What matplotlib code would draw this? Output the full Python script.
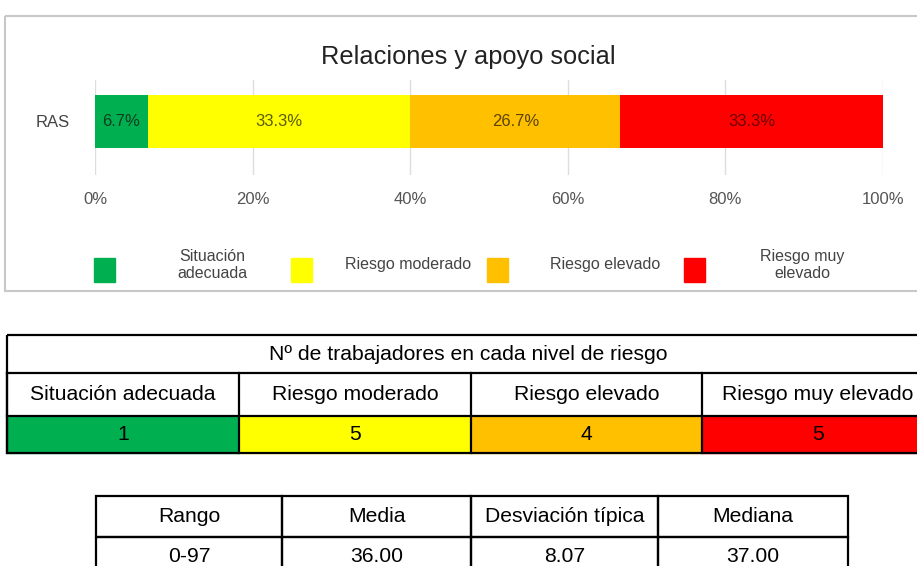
import matplotlib.pyplot as plt
from matplotlib.patches import Rectangle

plt.rcParams['font.family'] = ['Liberation Sans', 'DejaVu Sans']

# Data
niveles = ["Situación adecuada", "Riesgo moderado", "Riesgo elevado", "Riesgo muy elevado"]
leyenda = ["Situación\nadecuada", "Riesgo moderado", "Riesgo elevado", "Riesgo muy\nelevado"]
trabajadores = [1, 5, 4, 5]
colores = ["#00B050", "#FFFF00", "#FFC000", "#FF0000"]
colores_texto = ["#0b3d1f", "#5c5c00", "#5c4300", "#6b0000"]
escala = "RAS"
ticks = [0, 20, 40, 60, 80, 100]

stats_cols = ["Rango", "Media", "Desviación típica", "Mediana"]
stats_vals = ["0-97", "36.00", "8.07", "37.00"]

total = sum(trabajadores)
porcentajes = [n / total * 100 for n in trabajadores]

fig = plt.figure(figsize=(9.17, 5.66), dpi=100)
W, H = 917, 566

# background axes in pixel coordinates for the panel, legend and tables
bg = fig.add_axes([0, 0, 1, 1])
bg.set_xlim(0, W)
bg.set_ylim(H, 0)
bg.axis('off')

bg.add_patch(Rectangle((5, 16), 930, 275, fill=False, ec="#c8c8c8", lw=1.5))
bg.text(468, 57, "Relaciones y apoyo social", ha='center', va='center',
        fontsize=18.3, color="#222222")

# stacked bar
ax = fig.add_axes([95 / W, 1 - 175 / H, 788 / W, 95 / H])
left = 0
for p, c, tc in zip(porcentajes, colores, colores_texto):
    ax.barh(0, p, left=left, height=1, color=c, zorder=2)
    ax.text(left + p / 2, 0, f"{p:.1f}%", ha='center', va='center',
            fontsize=12, color=tc, zorder=3)
    left += p
ax.set_xlim(0, 100)
ax.set_ylim(-1.01, 0.78)
ax.set_xticks(ticks)
ax.set_xticklabels([f"{t}%" for t in ticks], fontsize=12, color="#555555")
ax.set_yticks([0])
ax.set_yticklabels([escala], fontsize=12, color="#444444")
ax.tick_params(length=0, axis='x', pad=12)
ax.tick_params(length=0, axis='y', pad=18)
ax.grid(axis='x', color="#dddddd", lw=1, zorder=0)
for s in ax.spines.values():
    s.set_visible(False)

# legend
sq_x = [94, 291, 487, 684]
lab_x = [212, 408, 605, 802]
for c, lab, sx, lx in zip(colores, leyenda, sq_x, lab_x):
    bg.add_patch(Rectangle((sx, 258), 21, 24, color=c))
    bg.text(lx, 265, lab, ha='center', va='center', fontsize=11.5,
            color="#444444", linespacing=1.1)

# table of workers per level
col_x = [7, 239, 471, 702, 934]
y1 = [335, 373, 416, 453]
lw = 1.6
bg.add_patch(Rectangle((col_x[0], y1[0]), col_x[-1] - col_x[0], y1[-1] - y1[0],
                       fill=False, ec='black', lw=lw, clip_on=False))
bg.plot([col_x[0], col_x[-1]], [y1[1], y1[1]], color='black', lw=lw)
bg.plot([col_x[0], col_x[-1]], [y1[2], y1[2]], color='black', lw=lw)
bg.text((col_x[0] + col_x[-1]) / 2 - 2, (y1[0] + y1[1]) / 2,
        "Nº de trabajadores en cada nivel de riesgo",
        ha='center', va='center', fontsize=15.2)
for i, (nivel, n, c) in enumerate(zip(niveles, trabajadores, colores)):
    x0, x1 = col_x[i], col_x[i + 1]
    bg.add_patch(Rectangle((x0, y1[2]), x1 - x0, y1[3] - y1[2], color=c, zorder=0))
    bg.plot([x0, x0], [y1[1], y1[3]], color='black', lw=lw)
    bg.text((x0 + x1) / 2, (y1[1] + y1[2]) / 2, nivel, ha='center', va='center',
            fontsize=15.2)
    bg.text((x0 + x1) / 2, (y1[2] + y1[3]) / 2, str(n), ha='center', va='center',
            fontsize=15.2)

# descriptive statistics table
col2_x = [96, 282, 471, 658, 848]
y2 = [496, 537, 577]
for i, (name, val) in enumerate(zip(stats_cols, stats_vals)):
    x0, x1 = col2_x[i], col2_x[i + 1]
    bg.add_patch(Rectangle((x0, y2[0]), x1 - x0, y2[1] - y2[0], fill=False,
                           ec='black', lw=lw))
    bg.add_patch(Rectangle((x0, y2[1]), x1 - x0, y2[2] - y2[1], fill=False,
                           ec='black', lw=lw))
    bg.text((x0 + x1) / 2, (y2[0] + y2[1]) / 2, name, ha='center', va='center',
            fontsize=15.2)
    bg.text((x0 + x1) / 2, (y2[1] + y2[2]) / 2, val, ha='center', va='center',
            fontsize=15.2)

fig.savefig("out.png", dpi=100)
